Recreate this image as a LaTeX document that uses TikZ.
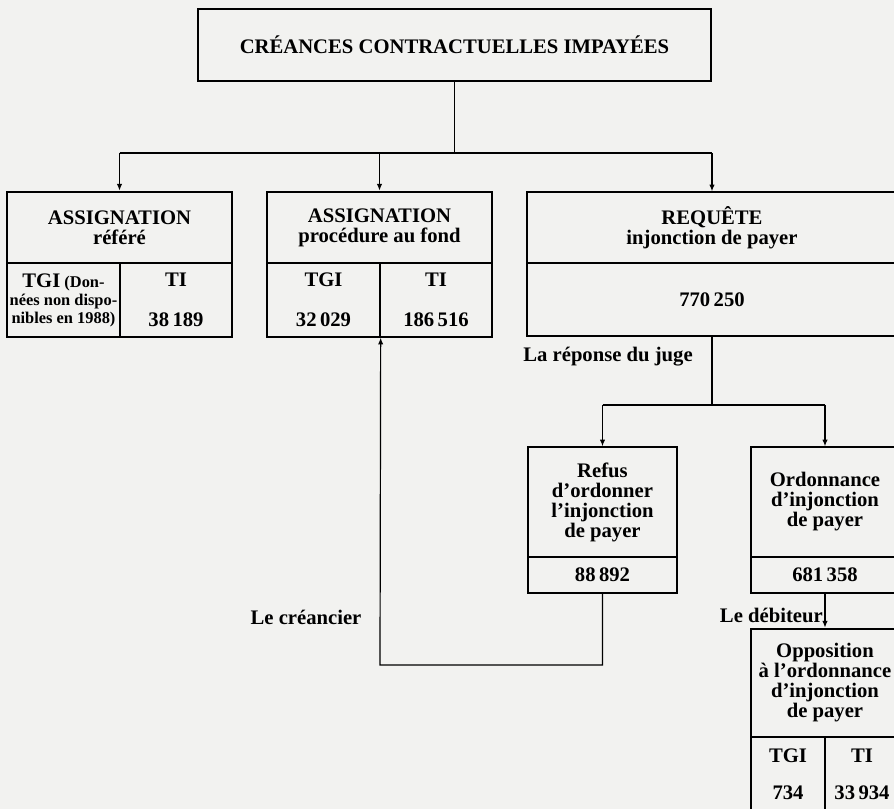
\documentclass[tikz,border=0pt]{standalone}
\usepackage{fontspec}
\setmainfont{Liberation Serif}
\usetikzlibrary{arrows.meta}
\definecolor{paper}{RGB}{242,242,240}
\newcommand{\bigtxt}{\fontsize{15.5}{15}\selectfont\bfseries}
\newcommand{\smalltxt}{\fontsize{12.3}{13.5}\selectfont\bfseries}
\tikzset{
  box/.style={draw, line width=1pt, inner sep=0pt, align=center, font=\bigtxt},
  headbox/.style={box, line width=2pt},
  lbl/.style={inner sep=0pt, font=\bigtxt},
  conn/.style={line width=0.9pt},
  arr/.style={conn, -{Latex[length=5pt,width=4pt]}}
}
\begin{document}
\begin{tikzpicture}[x=0.75pt,y=0.75pt,yscale=-1,xscale=1]
    \useasboundingbox (0,0) rectangle (894,809);
    \fill [paper] (0,0) rectangle (894,809);
    \draw (454.5,45) node [box, minimum width=384.75pt, minimum height=54pt] (creances) {CRÉANCES CONTRACTUELLES IMPAYÉES};
    \draw (63.5,300) node [box, minimum width=84.75pt, minimum height=55.5pt, font=\smalltxt] (tgiA) {{\bigtxt TGI} (Don-\\nées non dispo-\\nibles en 1988)};
    \draw (176,300) node [box, minimum width=84pt, minimum height=55.5pt] (tiA) {TI\\[15pt]38\,189};
    \draw (323.5,300) node [box, minimum width=84.75pt, minimum height=55.5pt] (tgiB) {TGI\\[15pt]32\,029};
    \draw (436,300) node [box, minimum width=84pt, minimum height=55.5pt] (tiB) {TI\\[15pt]186\,516};
    \draw (119.5,227.5) node [headbox, minimum width=168.75pt, minimum height=53.25pt] (assRef) {ASSIGNATION\\référé};
    \draw (379.5,227.5) node [headbox, minimum width=168.75pt, minimum height=53.25pt] (assFond) {ASSIGNATION\\procédure au fond};
    \draw (712,227.5) node [box, minimum width=277.5pt, minimum height=53.25pt] (requete) {REQUÊTE\\injonction de payer};
    \draw (712,299.5) node [box, minimum width=277.5pt, minimum height=54.75pt] (requeteNum) {770\,250};
    \draw (602.5,502) node [box, minimum width=111.75pt, minimum height=82.5pt] (refus) {Refus\\d’ordonner\\l’injonction\\de payer};
    \draw (602.5,575) node [box, minimum width=111.75pt, minimum height=27pt] (refusNum) {88\,892};
    \draw (825,502) node [box, minimum width=111pt, minimum height=82.5pt] (ordon) {Ordonnance\\d’injonction\\de payer};
    \draw (825,575) node [box, minimum width=111pt, minimum height=27pt] (ordonNum) {681\,358};
    \draw (788,774.5) node [box, minimum width=55.5pt, minimum height=56.25pt] (tgiC) {TGI\\[12.75pt]734};
    \draw (862,774.5) node [box, minimum width=55.5pt, minimum height=56.25pt] (tiC) {TI\\[12.75pt]33\,934};
    \draw (825,683) node [headbox, minimum width=111pt, minimum height=81pt] (oppos) {Opposition\\à l’ordonnance\\d’injonction\\de payer};
    \draw (693,357) node [lbl, anchor=east] (reponse) {La réponse du juge};
    \draw (306,617) node [lbl] (creancier) {Le créancier};
    \draw (823,615) node [lbl, anchor=east] (debiteur) {Le débiteur};
    \coordinate (fork) at (454.5,153);
    \coordinate (juge) at (712,405);
    \coordinate (retour) at (380,665);
    \draw [conn] (creances.south) -- (fork);
    \draw [conn] (assRef.north |- fork) -- (requete.north |- fork);
    \draw [arr] (assRef.north |- fork) -- (assRef.north);
    \draw [arr] (assFond.north |- fork) -- (assFond.north);
    \draw [arr] (requete.north |- fork) -- (requete.north);
    \draw [conn] (requeteNum.south) -- (juge);
    \draw [conn] (refus.north |- juge) -- (ordon.north |- juge);
    \draw [arr] (refus.north |- juge) -- (refus.north);
    \draw [arr] (ordon.north |- juge) -- (ordon.north);
    \draw [arr] (ordonNum.south) -- (oppos.north);
    \draw [arr] (refusNum.south) |- (retour) -- (tgiB.south east);
\end{tikzpicture}
\end{document}
